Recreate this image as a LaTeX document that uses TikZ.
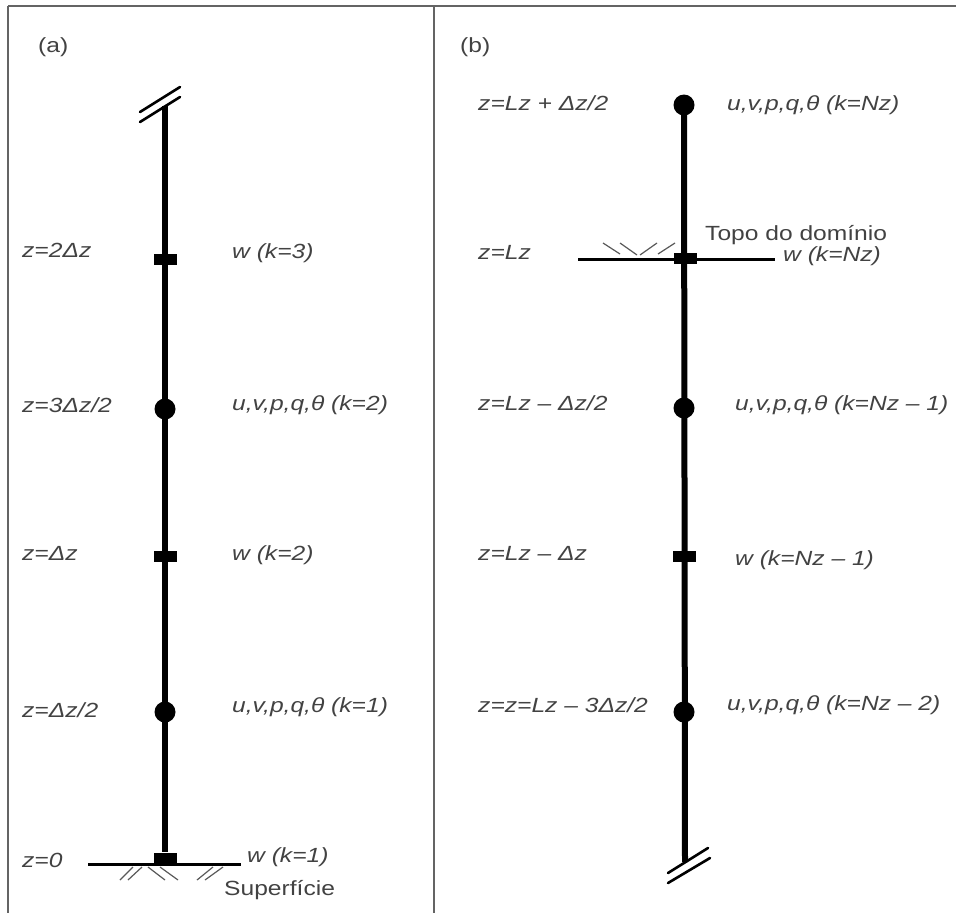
\documentclass[tikz,border=0pt]{standalone}
\usepackage{fontspec}
\setmainfont{Liberation Sans}[FakeStretch=1.2]
\usetikzlibrary{positioning}
\definecolor{LblGray}{RGB}{66,66,66}
\definecolor{FrameGray}{RGB}{100,100,100}
\newcommand{\lblsize}{\fontsize{20.5}{24}\selectfont}
\tikzset{
  lvl/.style={circle,fill=black,inner sep=0pt,minimum size=21pt},
  wpt/.style={rectangle,fill=black,inner sep=0pt,minimum width=23pt,minimum height=11pt},
  axisline/.style={line width=6pt},
  gnd/.style={line width=3pt},
  hatch/.style={line width=1.2pt,black!65},
  brk/.style={line width=2.6pt,line cap=round},
  lbl/.style={anchor=base west,inner sep=0pt,text=LblGray,font=\lblsize\itshape},
  ulbl/.style={anchor=base west,inner sep=0pt,text=LblGray,font=\lblsize},
  frame/.style={line width=1.5pt,FrameGray},
}

\begin{document}
\begin{tikzpicture}[x=1pt,y=-1pt]
  \useasboundingbox (0,0) rectangle (956,913);
  % frame
  \coordinate (fTL) at (8,6);
  \coordinate (fTR) at (956,6);
  \coordinate (fBL) at (8,913);
  \coordinate (fMT) at (434,6);
  \coordinate (fMB) at (434,913);
  \draw[frame,line width=2.5pt] (fTL) -- (fTR);
  \draw[frame] (fTL) -- (fBL);
  \draw[frame] (fMT) -- (fMB);
  \node[ulbl] (pa) at (38,52) {(a)};
  \node[ulbl] (pb) at (460,52) {(b)};

  % ---- (a) ----
  \coordinate (aTop) at (165,106);
  \node[wpt] (aW3) at (165,259) {};
  \node[lvl] (aU2) at (165,409) {};
  \node[wpt] (aW2) at (165,556) {};
  \node[lvl] (aU1) at (165,712) {};
  \node[wpt] (aW1) at (165,858) {};
  \draw[axisline] (aTop) -- (aW1);
  \coordinate (sfL) at (88,864);
  \coordinate (sfR) at (241,864);
  \draw[gnd] (sfL) -- (sfR);
  \foreach \xa/\ya/\xb/\yb in {120/880/133/867, 128/880/142/867,
      148/867/165/880, 160/867/178/880, 197/880/213/867, 205/880/223/867}
    \draw[hatch] (\xa,\ya) -- (\xb,\yb);
  \draw[brk] (140,112) -- (180,87);
  \draw[brk] (140,122) -- (180,97);

  \node[lbl] (aZ4) at (22,257) {z=2Δz};
  \node[lbl] (aZ3) at (22,412) {z=3Δz/2};
  \node[lbl] (aZ2) at (22,560) {z=Δz};
  \node[lbl] (aZ1) at (22,717) {z=Δz/2};
  \node[lbl] (aZ0) at (22,867) {z=0};
  \node[lbl] (aL4) at (232,258) {w (k=3)};
  \node[lbl] (aL3) at (232,410) {u,v,p,q,θ (k=2)};
  \node[lbl] (aL2) at (232,560) {w (k=2)};
  \node[lbl] (aL1) at (232,712) {u,v,p,q,θ (k=1)};
  \node[lbl] (aL0) at (247,862) {w (k=1)};
  \node[ulbl] (sup) at (224,895) {Superfície};

  % ---- (b) ----
  \node[lvl] (bU0) at (684,105) {};
  \node[wpt] (bW0) at (685,258) {};
  \node[lvl] (bU1) at (684,408) {};
  \node[wpt] (bW1) at (684,556) {};
  \node[lvl] (bU2) at (684,712) {};
  \coordinate (bBot) at (685,862);
  \draw[axisline] (bU0.center) -- (bBot);
  \coordinate (tdL) at (578,259);
  \coordinate (tdR) at (775,259);
  \draw[gnd] (tdL) -- (tdR);
  \foreach \xa/\ya/\xb/\yb in {603/243/620/254, 620/243/637/255,
      640/255/657/243, 658/254/675/243}
    \draw[hatch] (\xa,\ya) -- (\xb,\yb);
  \draw[brk] (668,873) -- (708,848);
  \draw[brk] (668,883) -- (710,858);

  \node[lbl] (bZ0) at (478,110) {z=Lz + Δz/2};
  \node[lbl] (bZ1) at (478,259) {z=Lz};
  \node[lbl] (bZ2) at (478,410) {z=Lz – Δz/2};
  \node[lbl] (bZ3) at (478,560) {z=Lz – Δz};
  \node[lbl] (bZ4) at (478,712) {z=z=Lz – 3Δz/2};
  \node[lbl] (bL0) at (727,110) {u,v,p,q,θ (k=Nz)};
  \node[ulbl] (topo) at (705,240) {Topo do domínio};
  \node[lbl] (bL1) at (783,261) {w (k=Nz)};
  \node[lbl] (bL2) at (735,410) {u,v,p,q,θ (k=Nz – 1)};
  \node[lbl] (bL3) at (735,565) {w (k=Nz – 1)};
  \node[lbl] (bL4) at (727,710) {u,v,p,q,θ (k=Nz – 2)};
\end{tikzpicture}
\end{document}
